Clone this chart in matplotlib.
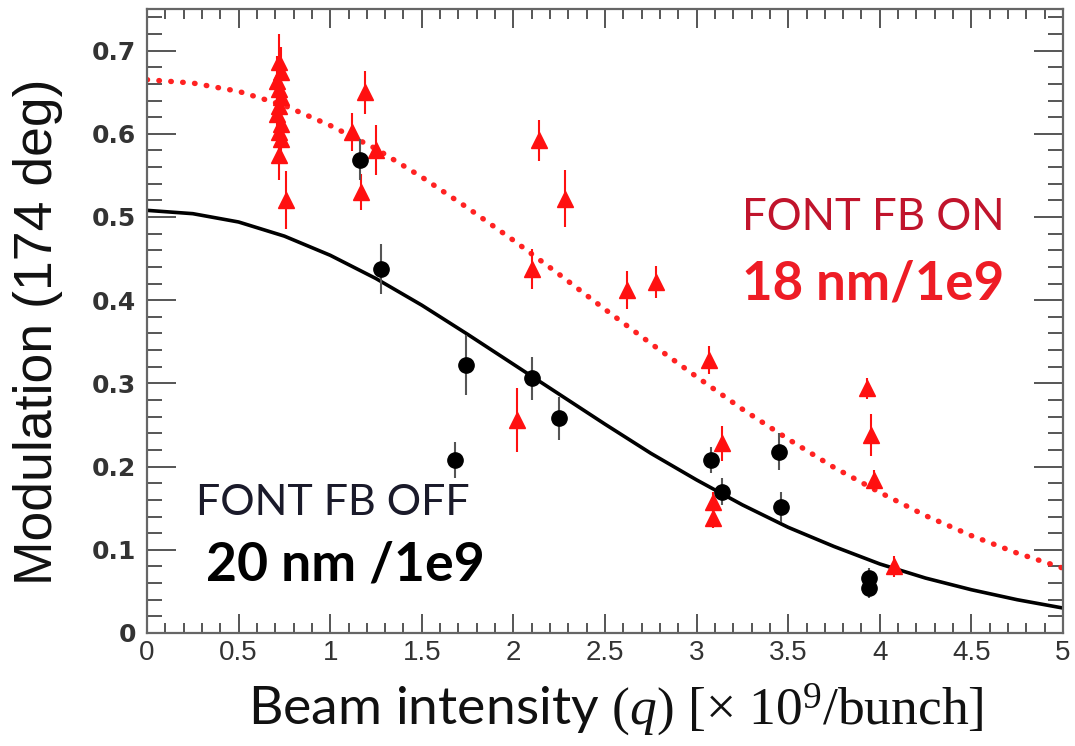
import matplotlib
matplotlib.use("Agg")
import matplotlib.pyplot as plt
from matplotlib.ticker import MultipleLocator, FuncFormatter

# ---------------- data ----------------
# FONT feedback ON (red triangles)
on_q = [0.72, 0.73, 0.71, 0.72, 0.73, 0.72, 0.71, 0.73, 0.72, 0.73, 0.72,
        0.76, 1.12, 1.19, 1.17, 1.25, 2.14, 2.28, 2.10, 2.62, 2.78, 2.02,
        3.07, 3.14, 3.09, 3.09, 3.93, 3.95, 3.97, 4.08]
on_mod = [0.686, 0.674, 0.664, 0.654, 0.644, 0.634, 0.624, 0.612, 0.602, 0.594, 0.574,
          0.520, 0.602, 0.650, 0.530, 0.580, 0.592, 0.522, 0.438, 0.412, 0.422, 0.256,
          0.328, 0.228, 0.158, 0.138, 0.294, 0.238, 0.184, 0.080]
on_err = [0.034, 0.03, 0.03, 0.03, 0.03, 0.03, 0.03, 0.03, 0.03, 0.03, 0.03,
          0.035, 0.023, 0.026, 0.022, 0.030, 0.025, 0.034, 0.024, 0.023, 0.019, 0.038,
          0.017, 0.021, 0.012, 0.012, 0.013, 0.025, 0.012, 0.013]

# FONT feedback OFF (black circles)
off_q = [1.16, 1.28, 1.74, 1.68, 2.10, 2.25, 3.08, 3.14, 3.45, 3.46, 3.94, 3.94]
off_mod = [0.569, 0.438, 0.322, 0.208, 0.306, 0.258, 0.208, 0.170, 0.218, 0.152, 0.066, 0.054]
off_err = [0.025, 0.030, 0.036, 0.022, 0.026, 0.026, 0.016, 0.016, 0.022, 0.018, 0.012, 0.012]

# fitted curves
fit_q = [0.0, 0.25, 0.5, 0.75, 1.0, 1.25, 1.5, 1.75, 2.0, 2.25, 2.5,
         2.75, 3.0, 3.25, 3.5, 3.75, 4.0, 4.25, 4.5, 4.75, 5.0]
fit_on = [0.665, 0.661, 0.651, 0.634, 0.610, 0.582, 0.548, 0.511, 0.472, 0.431, 0.389,
          0.348, 0.308, 0.269, 0.233, 0.199, 0.169, 0.141, 0.117, 0.096, 0.078]
fit_off = [0.508, 0.504, 0.494, 0.477, 0.454, 0.426, 0.394, 0.359, 0.323, 0.287, 0.251,
           0.216, 0.184, 0.154, 0.127, 0.104, 0.083, 0.066, 0.052, 0.040, 0.030]

label_on = ["FONT FB ON", "18 nm/1e9"]
label_off = ["FONT FB OFF", "20 nm /1e9"]

# ---------------- figure ----------------
plt.rcParams["mathtext.fontset"] = "custom"
plt.rcParams["mathtext.rm"] = "Liberation Serif"
plt.rcParams["mathtext.it"] = "Liberation Serif:italic"

W, H = 1075, 746
fig = plt.figure(figsize=(W / 100, H / 100), dpi=100)
ax = fig.add_axes([147 / W, 1 - 633 / H, 916 / W, 624 / H])

ax.plot(fit_q, fit_on, color="#ff2222", lw=3.9, linestyle=(0, (0.1, 2.1)),
        dash_capstyle="round", zorder=2)
ax.plot(fit_q, fit_off, color="black", lw=2.6, zorder=2)

ax.errorbar(on_q, on_mod, yerr=on_err, fmt="^", color="#ff1010", ms=11,
            mec="#ff1010", elinewidth=1.5, capsize=0, zorder=3)
ax.errorbar(off_q, off_mod, yerr=off_err, fmt="o", color="black", ecolor="#555555",
            ms=11, elinewidth=1.5, capsize=0, zorder=4)

ax.set_xlim(0, 5)
ax.set_ylim(0, 0.75)

ax.xaxis.set_major_locator(MultipleLocator(0.5))
ax.xaxis.set_minor_locator(MultipleLocator(0.1))
ax.yaxis.set_major_locator(MultipleLocator(0.1))
ax.yaxis.set_minor_locator(MultipleLocator(0.02))
ax.xaxis.set_major_formatter(FuncFormatter(lambda v, p: "0" if abs(v) < 1e-9 else f"{v:g}"))
ax.yaxis.set_major_formatter(FuncFormatter(lambda v, p: "0" if abs(v) < 1e-9 else f"{v:.1f}"))

for s in ax.spines.values():
    s.set_color("#666666")
    s.set_linewidth(1.6)

ax.tick_params(which="both", direction="in", top=True, right=True, color="#555555", width=1.4)
ax.tick_params(axis="x", which="major", length=14, pad=5)
ax.tick_params(axis="x", which="minor", length=7)
ax.tick_params(axis="y", which="major", length=21, pad=8)
ax.tick_params(axis="y", which="minor", length=11)

for t in ax.get_xticklabels():
    t.set_fontfamily(["Liberation Sans Narrow", "Liberation Sans"])
    t.set_fontsize(20)
    t.set_color("#333333")
for t in ax.get_yticklabels():
    t.set_fontfamily("DejaVu Sans")
    t.set_fontweight("bold")
    t.set_fontsize(18)
    t.set_color("#333333")

ax.set_xlabel(r"Beam intensity $(q)$ $[\times\ 10^9/\mathrm{bunch}]$",
              fontsize=38.5, family="Lato", color="#111111")
ax.xaxis.set_label_coords((616 - 147) / 916, -(710 - 633) / 624)
ax.xaxis.label.set_va("center")

ax.set_ylabel("Modulation (174 deg)", fontsize=38.5, family="Liberation Sans", color="#111111")
ax.yaxis.set_label_coords((38 - 147) / 916, (633 - 332) / 624)
ax.yaxis.label.set_va("center")

ax.text(3.25, 0.50, label_on[0], color="#c0142c", fontsize=31.5, family="Lato",
        ha="left", va="center")
ax.text(3.25, 0.42, label_on[1], color="#ee1c25", fontsize=38, family="Lato",
        fontweight="bold", ha="left", va="center")
ax.text(0.27, 0.156, label_off[0], color="#1a1a2a", fontsize=31, family="Lato",
        ha="left", va="center")
ax.text(0.32, 0.082, label_off[1], color="black", fontsize=38.5, family="Lato",
        fontweight="bold", ha="left", va="center")

fig.savefig("out.png", dpi=100)
